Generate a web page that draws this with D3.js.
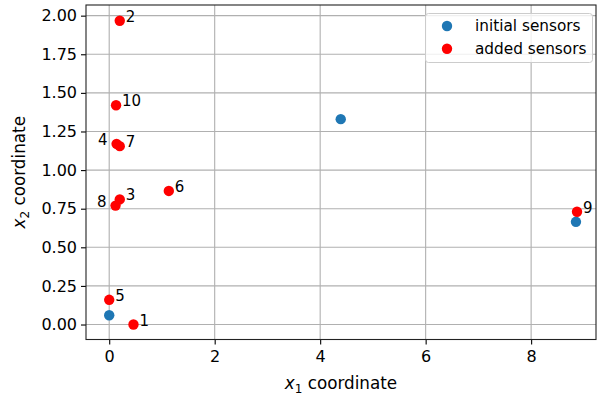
<!DOCTYPE html>
<html>
<head>
<meta charset="utf-8">
<script src="https://cdn.jsdelivr.net/npm/d3@7"></script>
<style>
  html, body { margin: 0; padding: 0; background: #fff; }
  svg { display: block; font-family: "DejaVu Sans", sans-serif; }
</style>
</head>
<body>
<svg id="chart" width="597" height="400"></svg>
<script>
// ---- data ----
const initialX = [0.0, 4.39, 8.85];
const initialY = [0.06, 1.33, 0.665];

const addedLabels = ["1", "2", "3", "4", "5", "6", "7", "8", "9", "10"];
const addedX = [0.46, 0.20, 0.20, 0.14, 0.00, 1.13, 0.20, 0.12, 8.87, 0.13];
const addedY = [0.00, 1.967, 0.81, 1.17, 0.16, 0.865, 1.155, 0.77, 0.73, 1.42];
const labelSide = ["right", "right", "right", "left", "right", "right", "right", "left", "right", "right"];

const xTicks = [0, 2, 4, 6, 8];
const yTicks = [0.00, 0.25, 0.50, 0.75, 1.00, 1.25, 1.50, 1.75, 2.00];
const legendLabels = ["initial sensors", "added sensors"];
const legendColors = ["#1f77b4", "#ff0000"];

// ---- layout ----
const svg = d3.select("#chart");
const L = 86, R = 596, T = 5, B = 339.5;
const x = d3.scaleLinear().domain([-0.44, 9.23]).range([L, R]);
const y = d3.scaleLinear().domain([-0.097, 2.069]).range([B, T]);

// grid
const g = svg.append("g");
g.selectAll(".gx").data(xTicks).join("line")
  .attr("x1", d => x(d)).attr("x2", d => x(d))
  .attr("y1", T).attr("y2", B)
  .attr("stroke", "#b0b0b0").attr("stroke-width", 1.1);
g.selectAll(".gy").data(yTicks).join("line")
  .attr("x1", L).attr("x2", R)
  .attr("y1", d => y(d)).attr("y2", d => y(d))
  .attr("stroke", "#b0b0b0").attr("stroke-width", 1.1);

// axes
const xAxis = d3.axisBottom(x).tickValues(xTicks).tickFormat(d3.format("d"))
  .tickSizeInner(5).tickSizeOuter(0).tickPadding(4);
const yAxis = d3.axisLeft(y).tickValues(yTicks).tickFormat(d3.format(".2f"))
  .tickSizeInner(5).tickSizeOuter(0).tickPadding(4);

const gx = svg.append("g").attr("transform", `translate(0,${B})`).call(xAxis);
const gy = svg.append("g").attr("transform", `translate(${L},0)`).call(yAxis);
[gx, gy].forEach(a => {
  a.select(".domain").remove();
  a.selectAll("line").attr("stroke", "#000").attr("stroke-width", 1.1);
  a.selectAll("text").attr("fill", "#000").style("font-size", "16px")
    .style("font-family", "DejaVu Sans");
});
gx.selectAll("text").attr("dy", "0.85em");

// frame
svg.append("rect").attr("x", L).attr("y", T).attr("width", R - L).attr("height", B - T)
  .attr("fill", "none").attr("stroke", "#222").attr("stroke-width", 1.1);

// axis labels
const xl = svg.append("text").attr("x", (L + R) / 2).attr("y", 389)
  .attr("text-anchor", "middle").style("font-size", "16.8px").attr("fill", "#000");
xl.append("tspan").style("font-style", "italic").text("x");
xl.append("tspan").attr("dy", 4).style("font-size", "12px").text("1");
xl.append("tspan").attr("dy", -4).text(" coordinate");

const yl = svg.append("text")
  .attr("transform", `translate(25,${(T + B) / 2}) rotate(-90)`)
  .attr("text-anchor", "middle").style("font-size", "16.8px").attr("fill", "#000");
yl.append("tspan").style("font-style", "italic").text("x");
yl.append("tspan").attr("dy", 4).style("font-size", "12px").text("2");
yl.append("tspan").attr("dy", -4).text(" coordinate");

// points
const initial = initialX.map((v, i) => ({ x: v, y: initialY[i] }));
const added = addedX.map((v, i) => ({ x: v, y: addedY[i], label: addedLabels[i], side: labelSide[i] }));

svg.append("g").selectAll("circle").data(initial).join("circle")
  .attr("cx", d => x(d.x)).attr("cy", d => y(d.y)).attr("r", 5.2)
  .attr("fill", legendColors[0]);

svg.append("g").selectAll("circle").data(added).join("circle")
  .attr("cx", d => x(d.x)).attr("cy", d => y(d.y)).attr("r", 5.2)
  .attr("fill", legendColors[1]);

svg.append("g").selectAll("text").data(added).join("text")
  .attr("x", d => x(d.x) + (d.side === "left" ? -9 : 6))
  .attr("y", d => y(d.y) + 1)
  .attr("text-anchor", d => d.side === "left" ? "end" : "start")
  .style("font-size", "15px").attr("fill", "#000")
  .text(d => d.label);

// legend
const lg = svg.append("g");
lg.append("rect").attr("x", 425.5).attr("y", 13.5).attr("width", 167).attr("height", 49)
  .attr("rx", 3).attr("fill", "#fff").attr("fill-opacity", 0.8)
  .attr("stroke", "#cccccc").attr("stroke-width", 1);
legendLabels.forEach((lab, i) => {
  const yy = 26 + i * 22.7;
  lg.append("circle").attr("cx", 447).attr("cy", yy).attr("r", 5.2).attr("fill", legendColors[i]);
  lg.append("text").attr("x", 475).attr("y", yy).attr("dy", "0.35em")
    .style("font-size", "15.3px").attr("fill", "#000").text(lab);
});
</script>
</body>
</html>
